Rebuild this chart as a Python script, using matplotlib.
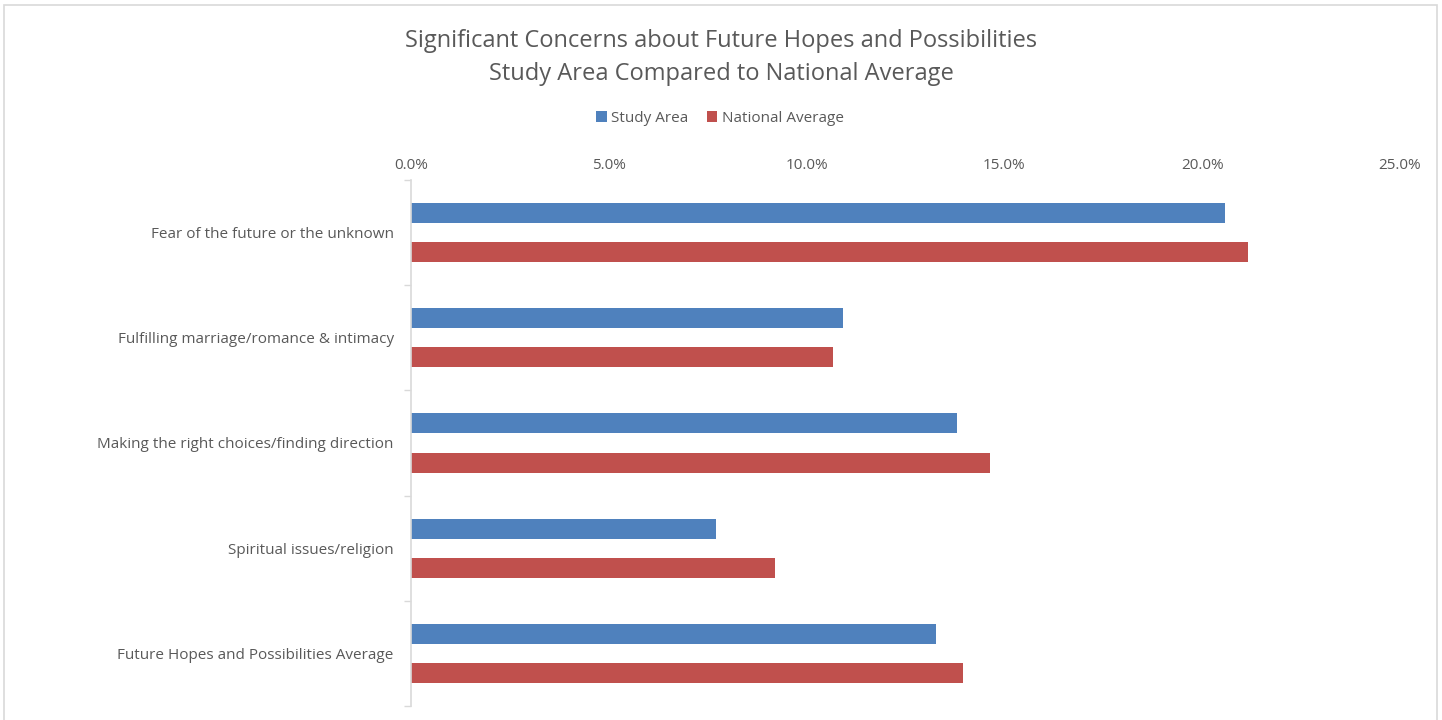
import numpy as np
import matplotlib.pyplot as plt
from matplotlib.patches import Rectangle

categories = [
    'Fear of the future or the unknown',
    'Fulfilling marriage/romance & intimacy',
    'Making the right choices/finding direction',
    'Spiritual issues/religion',
    'Future Hopes and Possibilities Average',
]
study_area = [20.58, 10.91, 13.81, 7.70, 13.27]
national_avg = [21.15, 10.66, 14.63, 9.19, 13.96]
xticks = [0, 5, 10, 15, 20, 25]

BLUE = '#4F81BD'
RED = '#C0504D'
TXT = '#595959'
FONT = ['Open Sans', 'DejaVu Sans']

plt.rcParams['font.family'] = FONT

fig = plt.figure(figsize=(14.42, 7.2), dpi=100)
ax = fig.add_axes([411 / 1442, 1 - 706 / 720, (1400 - 411) / 1442, (706 - 180) / 720])

# outer chart border
fig.patches.append(Rectangle((4 / 1442, -0.05), 1433 / 1442, 1.05 - 5 / 720,
                             transform=fig.transFigure, fill=False,
                             edgecolor='#D9D9D9', linewidth=1.2))

pos = np.arange(len(categories))
h = 0.19
off = 0.186
ax.barh(pos - off, study_area, height=h, color=BLUE, label='Study Area')
ax.barh(pos + off, national_avg, height=h, color=RED, label='National Average')

ax.set_ylim(len(categories) - 0.5, -0.5)
ax.set_xlim(0, 25)
ax.set_xticks(xticks)
ax.set_xticklabels([f'{v:.1f}%' for v in xticks])
ax.xaxis.tick_top()
ax.tick_params(axis='x', length=0, labelsize=11, colors=TXT, pad=5)

ax.set_yticks(pos)
ax.set_yticklabels(categories)
ax.tick_params(axis='y', which='major', length=0, labelsize=11, colors=TXT, pad=12.5)
ax.set_yticks(np.arange(-0.5, len(categories)), minor=True)
ax.tick_params(axis='y', which='minor', length=5, color='#D9D9D9', width=1)

for s in ['top', 'right', 'bottom']:
    ax.spines[s].set_visible(False)
ax.spines['left'].set_color('#D9D9D9')
ax.spines['left'].set_linewidth(1.2)

fig.text(0.5, 1 - 41 / 720, 'Significant Concerns about Future Hopes and Possibilities',
         ha='center', va='center', fontsize=17, color=TXT)
fig.text(0.5, 1 - 74 / 720, 'Study Area Compared to National Average',
         ha='center', va='center', fontsize=17, color=TXT)

fig.legend(loc='center', bbox_to_anchor=(720 / 1442, 1 - 118 / 720), ncol=2,
           frameon=False, fontsize=11, handlelength=0.7, handleheight=0.7,
           handletextpad=0.3, columnspacing=1.2, labelcolor=TXT)

fig.savefig('out.png', dpi=100, facecolor='white')
